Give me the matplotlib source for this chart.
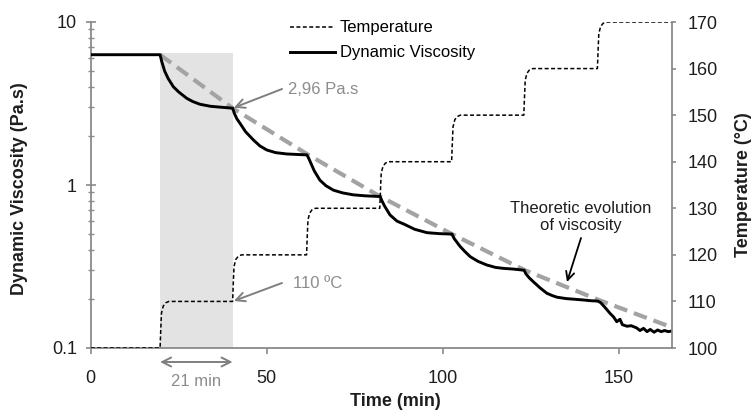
import matplotlib
matplotlib.use("Agg")
import matplotlib.pyplot as plt
from matplotlib.ticker import LogLocator, NullFormatter, FixedLocator, FuncFormatter
from matplotlib.transforms import blended_transform_factory

plt.rcParams['font.family'] = ['Liberation Sans', 'DejaVu Sans']

# ---------------- data ----------------
visc_time = [0, 19.7, 20.2, 21.0, 22.0, 23.5, 25.0, 27.3, 29.0, 31.0, 34.0, 37.0, 40.3,
             40.8, 41.5, 42.4, 44.0, 46.2, 48.0, 50.0, 52.5, 55.7, 58.5, 61.4,
             61.9, 62.4, 63.5, 65.1, 66.8, 68.9, 71.5, 74.6, 78.0, 82.2,
             82.7, 83.5, 85.0, 87.0, 89.0, 92.0, 95.5, 99.0, 102.6,
             103.2, 104.9, 106.3, 107.8, 110.0, 112.5, 115.0, 117.2, 120.0, 123.1,
             123.6, 124.5, 125.7, 127.5, 129.5, 131.0, 132.4, 135.0, 137.5, 140.0, 142.0, 144.0,
             144.8, 146.0, 147.5, 148.5, 149.4, 150.3, 151.0, 152.3, 153.5, 155.0, 156.0, 157.0,
             158.0, 158.9, 160.0, 161.0, 162.0, 163.0, 164.0, 165.0]
visc_vals = [6.3, 6.3, 5.7, 5.0, 4.5, 4.0, 3.72, 3.40, 3.25, 3.13, 3.04, 3.0, 2.96,
             2.75, 2.55, 2.39, 2.12, 1.89, 1.74, 1.64, 1.58, 1.55, 1.54, 1.53,
             1.46, 1.38, 1.22, 1.07, 0.99, 0.93, 0.895, 0.87, 0.858, 0.85,
             0.80, 0.74, 0.655, 0.60, 0.575, 0.535, 0.51, 0.503, 0.50,
             0.47, 0.42, 0.39, 0.363, 0.34, 0.323, 0.312, 0.308, 0.305, 0.30,
             0.285, 0.27, 0.255, 0.235, 0.217, 0.21, 0.205, 0.201, 0.199, 0.197, 0.195, 0.194,
             0.19, 0.178, 0.163, 0.155, 0.145, 0.15, 0.139, 0.136, 0.137, 0.133, 0.128, 0.132,
             0.126, 0.130, 0.125, 0.129, 0.126, 0.128, 0.126, 0.127]

temp_time = [0, 19.7, 19.9, 20.1, 20.6, 21.3, 22.2,
             40.3, 40.5, 40.7, 41.2, 41.9, 42.8,
             61.3, 61.5, 61.7, 62.2, 62.9, 63.8,
             82.1, 82.3, 82.5, 83.0, 83.7, 84.6,
             102.5, 102.7, 102.9, 103.4, 104.1, 105.0,
             123.0, 123.2, 123.4, 123.9, 124.6, 125.5,
             143.9, 144.1, 144.3, 144.8, 145.5, 146.4, 165.0]
temp_vals = [100, 100, 104, 107.5, 109, 109.7, 110,
             110, 114, 117.5, 119, 119.7, 120,
             120, 124, 127.5, 129, 129.7, 130,
             130, 134, 137.5, 139, 139.7, 140,
             140, 144, 147.5, 149, 149.7, 150,
             150, 154, 157.5, 159, 159.7, 160,
             160, 164, 167.5, 169, 169.7, 170, 170]

theo_time = [19.7, 40.3, 61.4, 82.2, 102.6, 123.3, 144.3, 165.0]
theo_vals = [6.3, 2.96, 1.55, 0.85, 0.50, 0.30, 0.197, 0.134]

shade_start, shade_end, shade_top = 19.7, 40.3, 6.45
x_ticks = [0, 50, 100, 150]
y_left_ticks = [0.1, 1, 10]
y_right_ticks = [100, 110, 120, 130, 140, 150, 160, 170]

# ---------------- figure ----------------
W, H = 752, 417
fig = plt.figure(figsize=(W / 100, H / 100), dpi=100)
L, R, T, B = 90.7, 671.7, 22, 348
ax = fig.add_axes([L / W, 1 - B / H, (R - L) / W, (B - T) / H])
ax2 = ax.twinx()

spine_c = '#8a8a8a'
txt_c = '#1e1e1e'
gray_txt = '#8c8c8c'

ax.fill_between([shade_start, shade_end], 0.1, shade_top, color='#e3e3e3', lw=0, zorder=0)
ax.plot(theo_time, theo_vals, color='#a3a3a3', lw=3.0, dashes=(3.3, 1.7), zorder=2)
lv, = ax.plot(visc_time, visc_vals, color='black', lw=2.1, zorder=3)
lt, = ax2.plot(temp_time, temp_vals, color='black', lw=1.1, dashes=(2.6, 1.6))

ax.set_yscale('log')
ax.set_xlim(0, 165)
ax.set_ylim(0.1, 10)
ax2.set_ylim(100, 170)

ax.xaxis.set_major_locator(FixedLocator(x_ticks))
ax.yaxis.set_major_locator(FixedLocator(y_left_ticks))
ax.yaxis.set_minor_locator(LogLocator(base=10, subs=range(2, 10)))
ax.yaxis.set_minor_formatter(NullFormatter())
ax.yaxis.set_major_formatter(FuncFormatter(lambda v, p: '{:g}'.format(v)))
ax2.yaxis.set_major_locator(FixedLocator(y_right_ticks))

for a in (ax, ax2):
    a.spines['top'].set_visible(False)
    for s in ('left', 'right', 'bottom'):
        a.spines[s].set_color(spine_c)
        a.spines[s].set_linewidth(1.3)
ax2.spines['left'].set_visible(False)
ax2.spines['bottom'].set_visible(False)
ax.spines['right'].set_visible(False)

ax.tick_params(axis='x', direction='out', length=4, width=1.2, color=spine_c,
               labelsize=13, labelcolor=txt_c, pad=11.5)
ax.tick_params(axis='y', which='major', direction='inout', length=7, width=1.2, color=spine_c,
               labelsize=13, labelcolor=txt_c, pad=6.5)
ax.tick_params(axis='y', which='minor', direction='inout', length=5, width=1.0, color=spine_c)
ax2.tick_params(axis='y', direction='out', length=3, width=1.2, color=spine_c,
                labelsize=13, labelcolor=txt_c, pad=8.7)

# axis labels
fig.text(19.5 / W, 1 - 189 / H, 'Dynamic Viscosity (Pa.s)', rotation=90, ha='center', va='center',
         fontsize=13, fontweight='bold', color=txt_c)
fig.text(744 / W, 1 - 185 / H, 'Temperature (°C)', rotation=90, ha='center', va='center',
         fontsize=13, fontweight='bold', color=txt_c)
fig.text(395 / W, 1 - 401.7 / H, 'Time (min)', ha='center', va='center',
         fontsize=13, fontweight='bold', color=txt_c)

# legend
ax2.legend([lt, lv], ['Temperature', 'Dynamic Viscosity'], loc='upper left',
           bbox_to_anchor=((290 - L) / (R - L), 1.005), frameon=False, fontsize=12,
           handlelength=2.7, handletextpad=0.3, labelspacing=0.6, borderpad=0,
           borderaxespad=0)

# annotations
ap_gray = dict(arrowstyle='->', color='#7f7f7f', lw=1.4, mutation_scale=16, shrinkA=0, shrinkB=1)
ax.annotate('', xy=(theo_time[1], theo_vals[1]), xycoords='data',
            xytext=(282, H - 89), textcoords='figure pixels', arrowprops=ap_gray)
fig.text(288 / W, 1 - 90 / H, '2,96 Pa.s', ha='left', va='center', fontsize=12, color=gray_txt)
ax2.annotate('', xy=(shade_end, 110), xycoords='data',
             xytext=(282, H - 283), textcoords='figure pixels', arrowprops=ap_gray)
fig.text(293 / W, 1 - 283 / H, '110 ºC', ha='left', va='center', fontsize=12, color=gray_txt)

trans = blended_transform_factory(ax.transData, fig.transFigure)
ax.annotate('', xy=(shade_end, 1 - 362 / H), xycoords=trans,
            xytext=(shade_start, 1 - 362 / H), textcoords=trans,
            arrowprops=dict(arrowstyle='<->', color='#7f7f7f', lw=1.4, mutation_scale=16,
                            shrinkA=0, shrinkB=0), annotation_clip=False)
fig.text((L + (shade_start + shade_end) / 2 * (R - L) / 165) / W, 1 - 381 / H, '21 min',
         ha='center', va='center', fontsize=12, color=gray_txt)

fig.text(581 / W, 1 - 217 / H, 'Theoretic evolution\nof viscosity', ha='center', va='center',
         fontsize=12, color=txt_c, linespacing=1.15)
ax.annotate('', xy=(567, H - 282), xycoords='figure pixels',
            xytext=(581, H - 238), textcoords='figure pixels',
            arrowprops=dict(arrowstyle='->', color='black', lw=1.3, mutation_scale=15,
                            shrinkA=0, shrinkB=0))

fig.savefig('out.png', dpi=100)
